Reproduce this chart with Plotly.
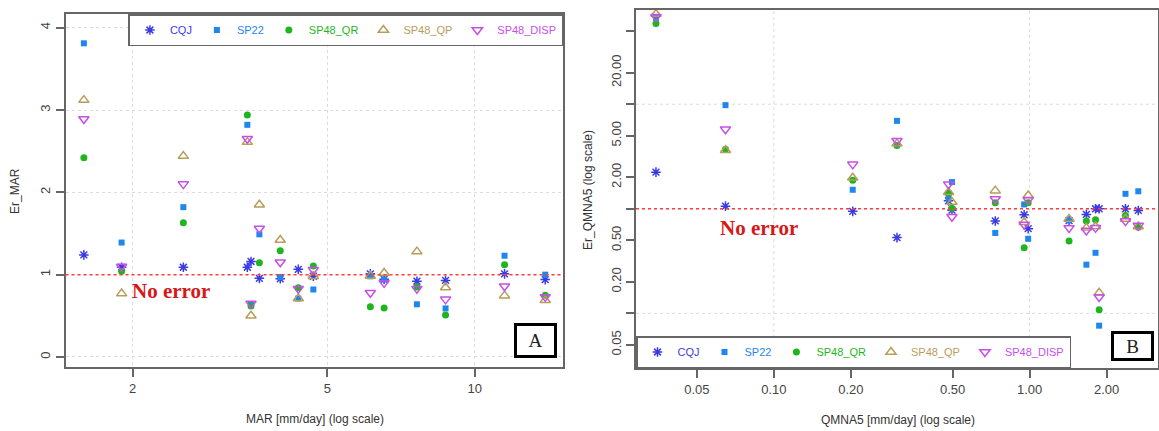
import plotly.graph_objects as go

W, H = 1159, 431

series = ["CQJ", "SP22", "SP48_QR", "SP48_QP", "SP48_DISP"]
colors = ["#3b3be6", "#1f86ee", "#1fb51f", "#b89d5a", "#c84ee8"]
symbols = ["asterisk-open", "square", "circle", "triangle-up-open", "triangle-down-open"]
sizes = [8, 6, 7, 9, 9]

# Panel A: MAR (mm/day) and relative error on MAR
mar = [1.589, 1.898, 2.538, 3.43, 3.49, 3.63, 4.005, 4.36, 4.68, 6.12, 6.53, 7.62, 8.72, 11.51, 13.94]
er_mar_cqj = [1.24, 1.09, 1.09, 1.09, 1.16, 0.955, 0.95, 1.065, 0.98, 1.01, 0.945, 0.92, 0.93, 1.01, 0.94]
er_mar_sp22 = [3.81, 1.39, 1.82, 2.82, 0.64, 1.49, 0.97, 0.71, 0.82, 0.98, 0.94, 0.64, 0.59, 1.23, 1.0]
er_mar_qr = [2.42, 1.04, 1.63, 2.94, 0.62, 1.145, 1.29, 0.84, 1.105, 0.61, 0.595, 0.85, 0.51, 1.12, 0.75]
er_mar_qp = [3.12, 0.77, 2.44, 2.61, 0.50, 1.85, 1.42, 0.71, 0.98, 0.985, 1.02, 1.28, 0.845, 0.745, 0.69]
er_mar_disp = [2.89, 1.10, 2.10, 2.65, 0.65, 1.56, 1.15, 0.83, 1.06, 0.78, 0.90, 0.83, 0.70, 0.86, 0.73]

# Panel B: QMNA5 (mm/day) and relative error on QMNA5
qmna5 = [0.0346, 0.0647, 0.2034, 0.303, 0.482, 0.497, 0.734, 0.952, 0.987, 1.426, 1.667, 1.81, 1.87, 2.37, 2.66]
er_q_cqj = [2.24, 1.06, 0.945, 0.53, 1.19, 0.97, 0.765, 0.876, 0.645, 0.77, 0.883, 1.0, 1.0, 1.0, 0.964]
er_q_sp22 = [67.0, 9.8, 1.52, 6.93, 1.27, 1.80, 0.587, 1.10, 0.516, 0.775, 0.292, 0.379, 0.0762, 1.39, 1.47]
er_q_qr = [59.2, 3.71, 1.87, 4.03, 1.41, 1.01, 1.14, 0.423, 1.14, 0.492, 0.762, 0.785, 0.108, 0.863, 0.667]
er_q_qp = [73.0, 3.63, 1.98, 4.2, 1.44, 1.16, 1.49, 0.745, 1.34, 0.80, 0.657, 0.677, 0.157, 0.80, 0.677]
er_q_disp = [68.6, 5.77, 2.66, 4.47, 1.72, 0.84, 1.24, 0.708, 1.22, 0.656, 0.62, 0.657, 0.143, 0.762, 0.69]

# axis ticks
a_xticks = [2, 5, 10]
a_yticks = [0, 1, 2, 3, 4]
b_xticks = [0.05, 0.1, 0.2, 0.5, 1, 2]
b_xticktext = ["0.05", "0.10", "0.20", "0.50", "1.00", "2.00"]
b_yticks = [0.05, 0.1, 0.2, 0.5, 1, 2, 5, 10, 20, 50]
b_yticktext = ["0.05", "", "0.20", "0.50", "", "2.00", "5.00", "", "20.00", ""]
b_xgrid = [0.1, 1]
b_ygrid = [0.1, 1, 10]

a_vals = [er_mar_cqj, er_mar_sp22, er_mar_qr, er_mar_qp, er_mar_disp]
b_vals = [er_q_cqj, er_q_sp22, er_q_qr, er_q_qp, er_q_disp]

fig = go.Figure()

def add_traces(xs, yss, xa, ya, leg):
    for name, c, s, sz, ys in zip(series, colors, symbols, sizes, yss):
        open_ = s.endswith("open")
        marker = dict(symbol=s, size=sz, color=c,
                      line=dict(color=c, width=1.5 if open_ else 0))
        fig.add_trace(go.Scatter(
            x=xs, y=ys, mode="markers", marker=marker,
            name="<span style='color:%s'>%s</span>" % (c, name),
            xaxis=xa, yaxis=ya, legend=leg, cliponaxis=False))

add_traces(mar, a_vals, "x", "y", "legend")
add_traces(qmna5, b_vals, "x2", "y2", "legend2")

def px2fx(p):
    return p / W

def px2fy(p):
    return 1 - p / H

FONT = "Liberation Sans, Arial, sans-serif"
axcommon = dict(showline=True, mirror=True, linecolor="#666", linewidth=2,
                ticks="outside", ticklen=8, tickwidth=1.5, tickcolor="#666", automargin=False,
                tickfont=dict(family=FONT, size=13, color="#444"), zeroline=False)

LEGFONT = dict(family="Liberation Sans, Arial", size=11)
fig.update_layout(
    width=W, height=H, margin=dict(l=0, r=0, t=0, b=0, autoexpand=False),
    paper_bgcolor="white", plot_bgcolor="white",
    xaxis=dict(domain=[px2fx(65.5), px2fx(563.4)], type="log", range=[0.1636, 1.1814],
               tickvals=a_xticks, ticktext=[str(v) for v in a_xticks],
               showgrid=True, gridcolor="#dcdcdc", griddash="dot", gridwidth=1, **axcommon),
    yaxis=dict(domain=[px2fy(367), px2fy(14)], range=[-0.1216, 4.166],
               tickvals=a_yticks, ticktext=[str(v) for v in a_yticks], tickangle=-90,
               showgrid=True, gridcolor="#dcdcdc", griddash="dot", gridwidth=1, **axcommon),
    xaxis2=dict(domain=[px2fx(636), px2fx(1157.5)], type="log", range=[-1.539, 0.500],
                tickvals=b_xticks, ticktext=b_xticktext, showgrid=False, anchor="y2", **axcommon),
    yaxis2=dict(domain=[px2fy(368), px2fy(9.5)], type="log", range=[-1.523, 1.906],
                tickvals=b_yticks, ticktext=b_yticktext, tickangle=-90, showgrid=False,
                anchor="x2", **axcommon),
    legend=dict(x=px2fx(563.4), y=px2fy(14), xanchor="right", yanchor="top",
                orientation="h", bordercolor="#666", borderwidth=1.5, bgcolor="white",
                font=LEGFONT, itemwidth=30),
    legend2=dict(x=px2fx(636), y=px2fy(368), xanchor="left", yanchor="bottom",
                 orientation="h", bordercolor="#666", borderwidth=1.5, bgcolor="white",
                 font=LEGFONT, itemwidth=30),
    showlegend=True,
)

shapes = []
# grid lines panel B (decades only)
for gx in b_xgrid:
    shapes.append(dict(type="line", xref="x2", yref="y2 domain", x0=gx, x1=gx, y0=0, y1=1,
                       line=dict(color="#dcdcdc", width=1, dash="dot"), layer="below"))
for gy in b_ygrid:
    shapes.append(dict(type="line", xref="x2 domain", yref="y2", x0=0, x1=1, y0=gy, y1=gy,
                       line=dict(color="#dcdcdc", width=1, dash="dot"), layer="below"))
# reference "no error" lines
shapes.append(dict(type="line", xref="x domain", yref="y", x0=0, x1=1, y0=1, y1=1,
                   line=dict(color="#ff3b3b", width=1.5, dash="dot")))
shapes.append(dict(type="line", xref="x2 domain", yref="y2", x0=0, x1=1, y0=1, y1=1,
                   line=dict(color="#ff3b3b", width=1.5, dash="dot")))
fig.update_layout(shapes=shapes)

TF = dict(family=FONT, size=12, color="#333")
SERIF = "Liberation Serif, Times New Roman, serif"
annots = [
    dict(text="No error", xref="x domain", yref="y domain", x=0.212, y=0.215, showarrow=False,
         xanchor="center", yanchor="middle",
         font=dict(family=SERIF, size=21, color="#d81818", weight="bold")),
    dict(text="No error", xref="x2 domain", yref="y2 domain", x=0.2357, y=0.3905, showarrow=False,
         xanchor="center", yanchor="middle",
         font=dict(family=SERIF, size=21, color="#d81818", weight="bold")),
    dict(text="A", xref="paper", yref="paper", x=px2fx(535.5), y=px2fy(340.5), showarrow=False,
         xanchor="center", yanchor="middle",
         font=dict(family=SERIF, size=19, color="#222"), bordercolor="black", borderwidth=3,
         borderpad=0, width=37, height=29, bgcolor="white"),
    dict(text="B", xref="paper", yref="paper", x=px2fx(1132.5), y=px2fy(346), showarrow=False,
         xanchor="center", yanchor="middle",
         font=dict(family=SERIF, size=19, color="#222"), bordercolor="black", borderwidth=3,
         borderpad=0, width=37, height=24, bgcolor="white"),
    dict(text="MAR [mm/day] (log scale)", xref="paper", yref="paper", x=px2fx(314.5), y=px2fy(419),
         xanchor="center", yanchor="middle", showarrow=False, font=TF),
    dict(text="QMNA5 [mm/day] (log scale)", xref="paper", yref="paper", x=px2fx(897.6), y=px2fy(420),
         xanchor="center", yanchor="middle", showarrow=False, font=TF),
    dict(text="Er_MAR", xref="paper", yref="paper", x=px2fx(15), y=px2fy(191), textangle=-90,
         xanchor="center", yanchor="middle", showarrow=False, font=TF),
    dict(text="Er_QMNA5 (log scale)", xref="paper", yref="paper", x=px2fx(588), y=px2fy(190),
         xanchor="center", yanchor="middle", textangle=-90, showarrow=False, font=TF),
]
fig.update_layout(annotations=annots)

fig.write_html("out.html", config={"displayModeBar": False},
               post_script="document.body.style.margin='0';document.body.style.overflow='hidden';")
